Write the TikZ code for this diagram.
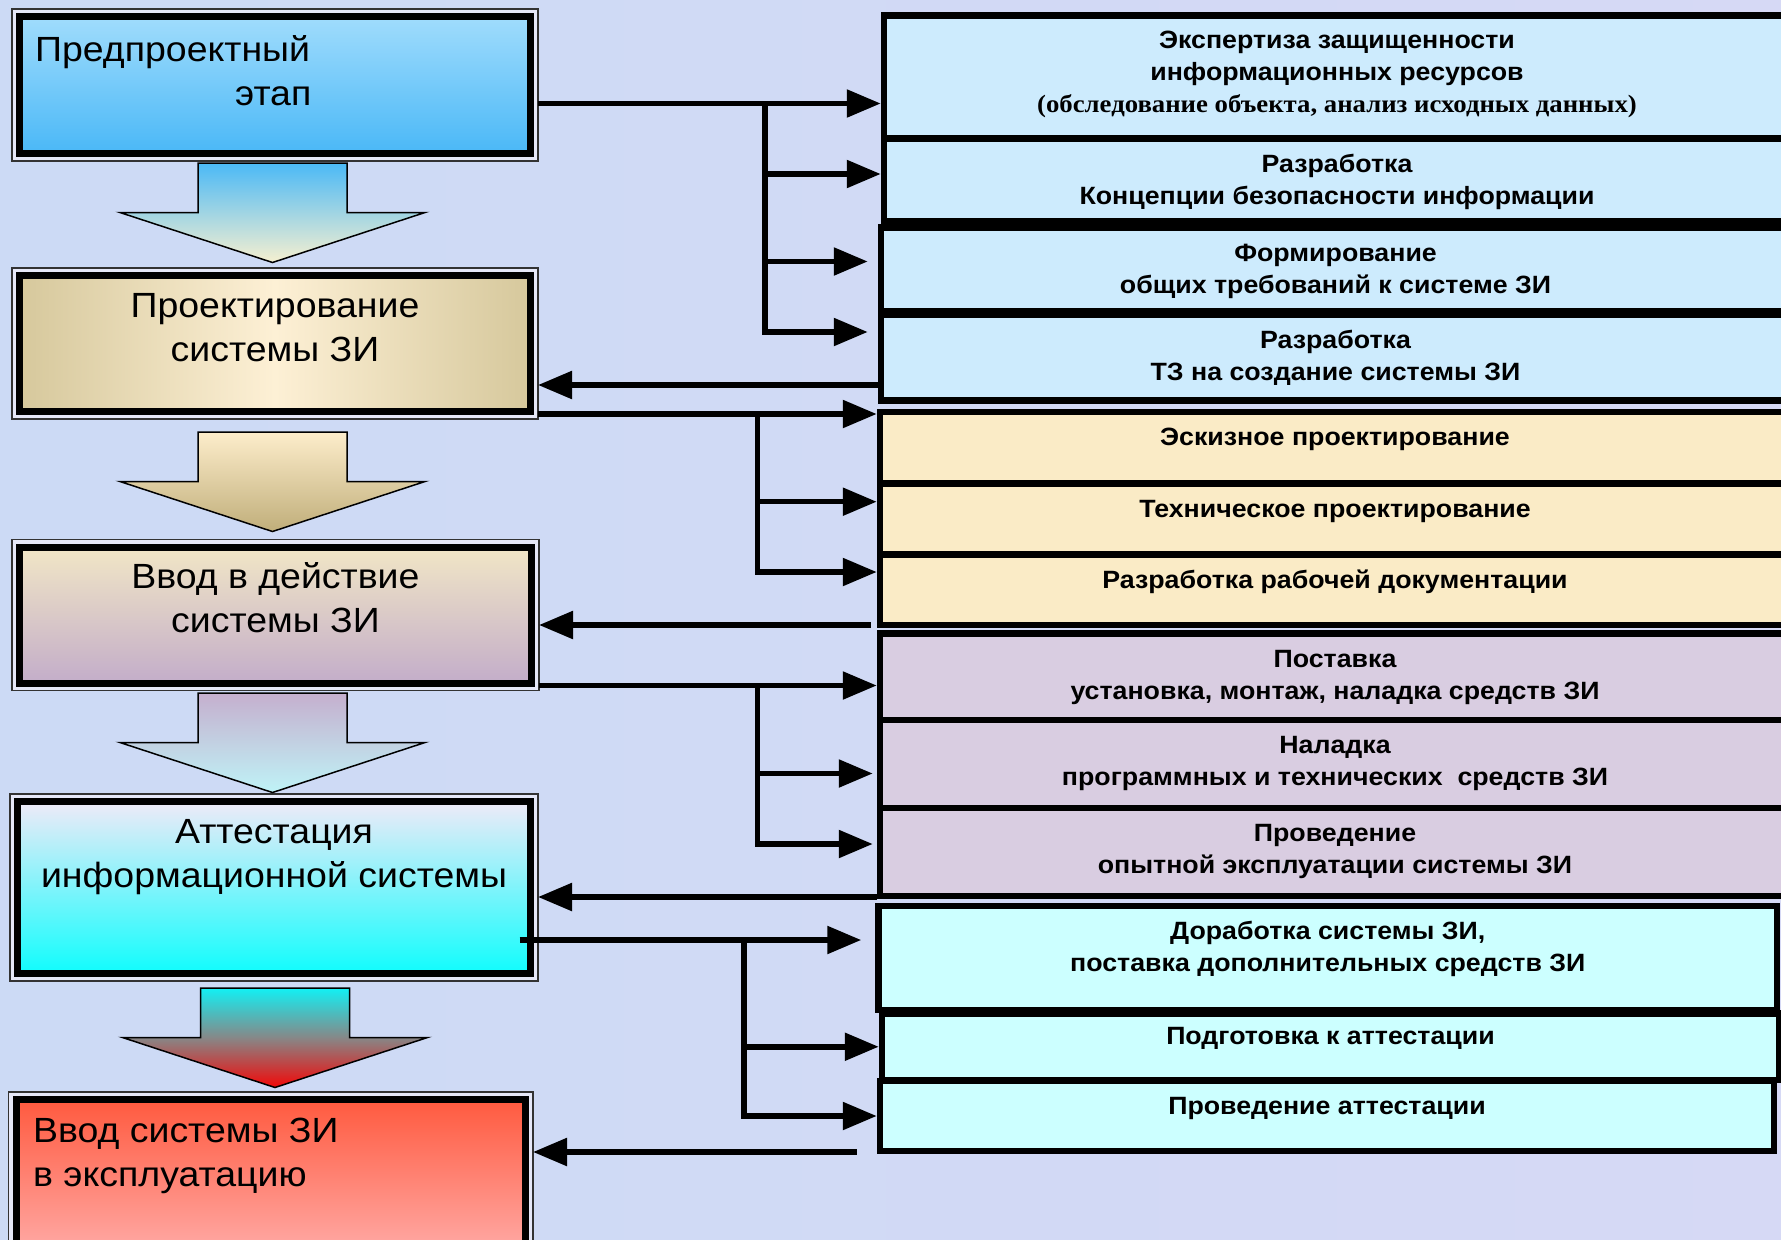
\documentclass[tikz,border=0pt]{standalone}
\usepackage{fontspec}
\setmainfont[FakeStretch=1.07]{Liberation Sans}
\newfontfamily\timesfont[FakeStretch=1.07]{Liberation Serif}
\usetikzlibrary{arrows.meta, positioning, backgrounds}
\definecolor{bgleft}{HTML}{CCDAF5}
\definecolor{bgright}{HTML}{D6D9F5}
\definecolor{gapfill}{HTML}{E6E8F8}
\definecolor{preTop}{HTML}{A0DCFC}
\definecolor{preBot}{HTML}{4AB8F7}
\definecolor{projEdge}{HTML}{D6C89C}
\definecolor{projMid}{HTML}{FDF0D5}
\definecolor{vvodTop}{HTML}{F1E6C6}
\definecolor{vvodBot}{HTML}{C3ADC9}
\definecolor{attTop}{HTML}{EFEAF8}
\definecolor{attBot}{HTML}{10FDFD}
\definecolor{explTop}{HTML}{FF5A3F}
\definecolor{explBot}{HTML}{FFABA7}
\definecolor{grpBlue}{HTML}{CDEBFD}
\definecolor{grpCream}{HTML}{FAEBC6}
\definecolor{grpLilac}{HTML}{D9CDE1}
\definecolor{grpCyan}{HTML}{CCFFFF}
\definecolor{arrAtop}{HTML}{4BB9F6}
\definecolor{arrAbot}{HTML}{F6F0D0}
\definecolor{arrBtop}{HTML}{FDEDCB}
\definecolor{arrBbot}{HTML}{C0AE7A}
\definecolor{arrCtop}{HTML}{C5AFCE}
\definecolor{arrCbot}{HTML}{BFF3F7}
\definecolor{arrDtop}{HTML}{12F0F4}
\definecolor{arrDmid}{HTML}{878787}
\definecolor{arrDbot}{HTML}{F20808}

\begin{document}
\begin{tikzpicture}[
    x=1pt, y=-1pt,
    every node/.style={inner sep=0pt},
    stage/.style={draw=black, line width=7pt, outer sep=7.5pt},
    stageframe/.style={draw=black!80, line width=1.5pt, fill=gapfill},
    stagetext/.style={font=\fontsize{35}{44}\selectfont, align=center, anchor=base},
    rbox/.style={draw=black, line width=6.5pt},
    rtext/.style={font=\bfseries\fontsize{25}{32}\selectfont, align=center, anchor=base},
    grpA/.style={rbox, fill=grpBlue},
    grpB/.style={rbox, fill=grpCream},
    grpC/.style={rbox, fill=grpLilac},
    grpD/.style={rbox, fill=grpCyan},
    link/.style={line width=5.5pt},
    arrow/.style={link, -{Triangle[length=34pt, width=27pt]}},
    arrowA/.style={top color=arrAtop, bottom color=arrAbot},
    arrowB/.style={top color=arrBtop, bottom color=arrBbot},
    arrowC/.style={top color=arrCtop, bottom color=arrCbot},
    arrowD/.style={top color=arrDtop, bottom color=arrDbot, middle color=arrDmid}
]
\useasboundingbox (0,0) rectangle (1781,1240);
\begin{scope}[on background layer]
  \shade[left color=bgleft, right color=bgright] (0,0) rectangle (1781,1240);
\end{scope}

% stages
\node[stage, top color=preTop, bottom color=preBot, minimum width=511pt, minimum height=137pt] (pre) at (275,85) {};
\node[stage, left color=projEdge, right color=projEdge, middle color=projMid, minimum width=511pt, minimum height=136pt] (proj) at (275,343.5) {};
\node[stage, top color=vvodTop, bottom color=vvodBot, minimum width=512pt, minimum height=136pt] (vvod) at (275.5,615) {};
\node[stage, top color=attTop, bottom color=attBot, minimum width=513pt, minimum height=172pt] (att) at (274,887.5) {};
\node[stage, top color=explTop, bottom color=explBot, minimum width=509.5pt, minimum height=155pt] (expl) at (270.75,1177) {};

% texts sit on the baseline of their last line
\node[stagetext, anchor=base west, align=left] (pre-t) at ([xshift=23pt,yshift=-96pt]pre.north west) {Предпроектный\\\hspace*{200pt}этап};
\node[stagetext] (proj-t) at ([yshift=-93pt]proj.north) {Проектирование\\системы ЗИ};
\node[stagetext] (vvod-t) at ([yshift=-93pt]vvod.north) {Ввод в действие\\системы ЗИ};
\node[stagetext] (att-t) at ([yshift=-93pt]att.north) {Аттестация\\информационной системы};
\node[stagetext, anchor=base west, align=left] (expl-t) at ([xshift=24.5pt,yshift=-94pt]expl.north west) {Ввод системы ЗИ\\в эксплуатацию};

\begin{scope}[on background layer]
  \foreach \n in {pre,proj,vvod,att,expl}
    \draw[stageframe] (\n.north west) rectangle (\n.south east);
\end{scope}

% block arrows between stages
\foreach \t/\dx/\s in {163/0/arrowA, 432/0/arrowB, 693/0/arrowC, 988/2.5/arrowD}
  \path[\s, draw=black, line width=1.5pt]
    (198+\dx,\t) -- (347+\dx,\t) -- (347+\dx,\t+49.5) -- (425+\dx,\t+49.5)
    -- (272.5+\dx,\t+99.5) -- (120+\dx,\t+49.5) -- (198+\dx,\t+49.5) -- cycle;

% works
\node[grpA, minimum width=906pt, minimum height=123pt] (r1) at (1337,77) {};
\node[grpA, minimum width=906pt, minimum height=83pt] (r2) at (1337,180) {};
\node[grpA, minimum width=909pt, minimum height=84pt] (r3) at (1335.5,269.5) {};
\node[grpA, minimum width=909pt, minimum height=86pt] (r4) at (1335.5,357.5) {};
\node[grpB, minimum width=910pt, minimum height=71.5pt] (r5) at (1335,447.75) {};
\node[grpB, minimum width=910pt, minimum height=71pt] (r6) at (1335,519) {};
\node[grpB, minimum width=910pt, minimum height=70.5pt] (r7) at (1335,589.75) {};
\node[grpC, minimum width=910pt, minimum height=86.5pt] (r8) at (1335,676.75) {};
\node[grpC, minimum width=910pt, minimum height=88pt] (r9) at (1335,764) {};
\node[grpC, minimum width=910pt, minimum height=88pt] (r10) at (1335,852) {};
\node[grpD, minimum width=898.5pt, minimum height=104pt] (r11) at (1327.75,958) {};
\node[grpD, minimum width=897pt, minimum height=66.5pt] (r12) at (1330.5,1046.75) {};
\node[grpD, minimum width=894pt, minimum height=70pt] (r13) at (1327,1116) {};

\node[rtext] (r1-t) at ([yshift=-100pt]r1.north) {Экспертиза защищенности\\информационных ресурсов\\{\timesfont\fontsize{25}{30}\selectfont (обследование объекта, анализ исходных данных)}};
\node[rtext] (r2-t) at ([yshift=-69pt]r2.north) {Разработка\\Концепции безопасности информации};
\node[rtext] (r3-t) at ([yshift=-69pt]r3.north) {Формирование\\общих требований к системе ЗИ};
\node[rtext] (r4-t) at ([yshift=-69pt]r4.north) {Разработка\\ТЗ на создание системы ЗИ};
\node[rtext] (r5-t) at ([yshift=-37pt]r5.north) {Эскизное проектирование};
\node[rtext] (r6-t) at ([yshift=-37pt]r6.north) {Техническое проектирование};
\node[rtext] (r7-t) at ([yshift=-37pt]r7.north) {Разработка рабочей документации};
\node[rtext] (r8-t) at ([yshift=-69pt]r8.north) {Поставка\\установка, монтаж, наладка средств ЗИ};
\node[rtext] (r9-t) at ([yshift=-69pt]r9.north) {Наладка\\программных и технических\ \ средств ЗИ};
\node[rtext] (r10-t) at ([yshift=-69pt]r10.north) {Проведение\\опытной эксплуатации системы ЗИ};
\node[rtext] (r11-t) at ([yshift=-69pt]r11.north) {Доработка системы ЗИ,\\поставка дополнительных средств ЗИ};
\node[rtext] (r12-t) at ([yshift=-34pt]r12.north) {Подготовка к аттестации};
\node[rtext] (r13-t) at ([yshift=-37pt]r13.north) {Проведение аттестации};

% forks
\coordinate (fork1) at (765,103.5);
\coordinate (fork2) at (757.5,414);
\coordinate (fork3) at (757.5,685.5);
\coordinate (fork4) at (744,940);

\draw[arrow] (pre.east |- fork1) -- (r1.west |- fork1);
\draw[arrow] (fork1) |- ([yshift=6pt]r2.west);
\draw[arrow, shorten >=10pt] (fork1) |- ([yshift=8pt]r3.west);
\draw[arrow, shorten >=10pt] (fork1) |- ([yshift=25.5pt]r4.west);

\draw[arrow] (proj.east |- fork2) -- (r5.west |- fork2);
\draw[arrow] (fork2) |- ([yshift=17.3pt]r6.west);
\draw[arrow] (fork2) |- ([yshift=17.75pt]r7.west);

\draw[arrow] (vvod.east |- fork3) -- (r8.west |- fork3);
\draw[arrow, shorten >=4pt] (fork3) |- ([yshift=-9.5pt]r9.west);
\draw[arrow, shorten >=4pt] (fork3) |- ([yshift=8pt]r10.west);

\draw[arrow, shorten <=-18.5pt, shorten >=14pt] (att.east |- fork4) -- (r11.west |- fork4);
\draw[arrow] (fork4) |- (r12.west);
\draw[arrow] (fork4) |- (r13.west);

% results back to the stages
\coordinate (back1) at ([yshift=-27.5pt]r4.west);
\coordinate (back2) at ([xshift=-6pt,yshift=-35.25pt]r7.west);
\coordinate (back3) at ([yshift=-45pt]r10.west);
\coordinate (back4) at ([xshift=-20pt,yshift=-36pt]r13.west);
\draw[arrow] (back1) -- (proj.east |- back1);
\draw[arrow] (back2) -- (vvod.east |- back2);
\draw[arrow] (back3) -- (att.east |- back3);
\draw[arrow] (back4) -- (expl.east |- back4);
\end{tikzpicture}
\end{document}
